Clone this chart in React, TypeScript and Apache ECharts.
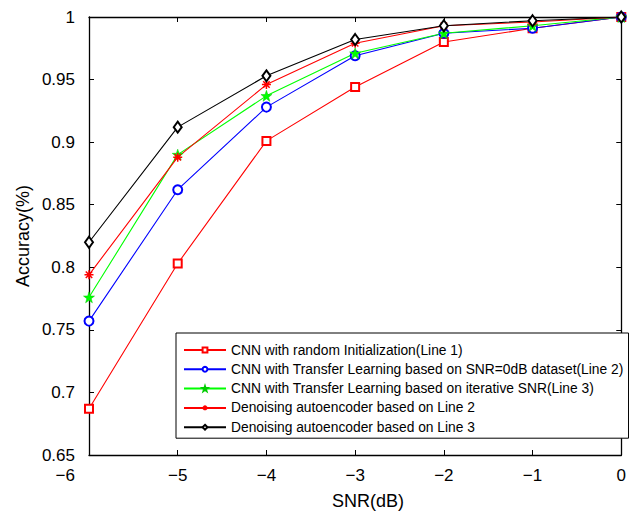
import React, { useEffect, useRef } from "react";
import * as echarts from "echarts";

const snr = [-6, -5, -4, -3, -2, -1, 0];
const line1 = [0.687, 0.803, 0.901, 0.944, 0.98, 0.991, 1.0];
const line2 = [0.757, 0.862, 0.928, 0.969, 0.987, 0.991, 1.0];
const line3 = [0.776, 0.89, 0.937, 0.971, 0.987, 0.993, 1.0];
const line4 = [0.794, 0.888, 0.946, 0.979, 0.993, 0.996, 1.0];
const line5 = [0.82, 0.912, 0.953, 0.982, 0.993, 0.997, 1.0];
const seriesNames = [
  "CNN with random Initialization(Line 1)",
  "CNN with Transfer Learning based on SNR=0dB dataset(Line 2)",
  "CNN with Transfer Learning based on iterative SNR(Line 3)",
  "Denoising autoencoder based on Line 2",
  "Denoising autoencoder based on Line 3",
];
const xTitle = "SNR(dB)";
const yTitle = "Accuracy(%)";

const FONT = "'Liberation Sans', Arial, Helvetica, sans-serif";
const STAR =
  "path://M0,-10L2.35,-3.24L9.51,-3.09L3.8,1.24L5.88,8.09L0,4L-5.88,8.09L-3.8,1.24L-9.51,-3.09L-2.35,-3.24Z";
const ASTER =
  "path://M0,-5L0,5M-5,0L5,0M-3.6,-3.6L3.6,3.6M-3.6,3.6L3.6,-3.6";

function pts(vals: number[]) {
  return snr.map((x, i) => [x, vals[i]]);
}

export default function App() {
  const ref = useRef<HTMLDivElement>(null);
  useEffect(() => {
    if (!ref.current) return;
    const chart = echarts.init(ref.current, null, { renderer: "svg" });
    const axisCommon = {
      axisLine: { onZero: false, lineStyle: { color: "#000", width: 1.3 } },
      axisTick: { inside: true, length: 5, lineStyle: { color: "#000", width: 1 } },
      splitLine: { show: false },
    };
    const mk = (
      name: string,
      vals: number[],
      color: string,
      symbol: string,
      size: any,
      item: any
    ) => ({
      name,
      type: "line",
      xAxisIndex: 0,
      yAxisIndex: 0,
      data: pts(vals),
      symbol,
      symbolSize: size,
      showAllSymbol: true,
      lineStyle: { color, width: 1.1 },
      itemStyle: item,
      emphasis: { disabled: true },
    });
    chart.setOption({
      animation: false,
      backgroundColor: "#fff",
      textStyle: { fontFamily: FONT },
      grid: { left: 89, right: 5, top: 17, bottom: 56 },
      xAxis: [
        {
          type: "value",
          min: -6,
          max: 0,
          interval: 1,
          position: "bottom",
          ...axisCommon,
          axisLabel: {
            color: "#000",
            fontSize: 17,
            fontFamily: FONT,
            margin: 12,
            alignMinLabel: "right",
            formatter: (v: number) =>
              v === -6 ? "{m|−6}" : v < 0 ? "−" + Math.abs(v) : String(v),
            rich: { m: { fontSize: 17, fontFamily: FONT, color: "#000", padding: [0, 14, 0, 0] } },
          },
        },
        {
          type: "value",
          min: -6,
          max: 0,
          interval: 1,
          position: "top",
          ...axisCommon,
          axisLabel: { show: false },
        },
      ],
      yAxis: [
        {
          type: "value",
          min: 0.65,
          max: 1,
          interval: 0.05,
          position: "left",
          ...axisCommon,
          axisLabel: {
            color: "#000",
            fontSize: 17,
            fontFamily: FONT,
            margin: 14,
            formatter: (v: number) => String(+v.toFixed(2)),
          },
        },
        {
          type: "value",
          min: 0.65,
          max: 1,
          interval: 0.05,
          position: "right",
          ...axisCommon,
          axisLabel: { show: false },
        },
      ],
      legend: {
        orient: "vertical",
        left: 176,
        top: 333,
        padding: [10, 5, 4, 7],
        itemWidth: 42,
        itemHeight: 6,
        itemGap: 5.3,
        backgroundColor: "#fff",
        borderColor: "#000",
        borderWidth: 1,
        borderRadius: 0,
        textStyle: { color: "#000", fontSize: 13.8, fontFamily: FONT, lineHeight: 14 },
        data: seriesNames,
      },
      graphic: [
        {
          type: "text",
          x: 22.5,
          y: 236,
          rotation: Math.PI / 2,
          style: {
            text: yTitle,
            fontSize: 18,
            fontFamily: FONT,
            fill: "#000",
            align: "center",
            verticalAlign: "middle",
          },
        },
        {
          type: "text",
          x: 368,
          y: 501,
          style: {
            text: xTitle,
            fontSize: 18,
            fontFamily: FONT,
            fill: "#000",
            align: "center",
            verticalAlign: "middle",
          },
        },
      ],
      series: [
        mk(seriesNames[0], line1, "#ff0000", "emptyRect", 8, { color: "#ff0000", borderWidth: 1.1 }),
        mk(seriesNames[1], line2, "#0000ff", "emptyCircle", 9, { color: "#0000ff", borderWidth: 1.1 }),
        mk(seriesNames[2], line3, "#00ff00", STAR, 11, { color: "#00ff00", borderColor: "#00cc00", borderWidth: 0.5 }),
        mk(seriesNames[3], line4, "#ff0000", ASTER, 9, { color: "#ff0000", borderColor: "#ff0000", borderWidth: 1.5 }),
        mk(seriesNames[4], line5, "#000000", "emptyDiamond", [8, 11], { color: "#000000", borderWidth: 1.1 }),
      ],
    });
    return () => chart.dispose();
  }, []);
  return (
    <div
      ref={ref}
      style={{ position: "absolute", left: 0, top: 0, width: 629, height: 511 }}
    />
  );
}
